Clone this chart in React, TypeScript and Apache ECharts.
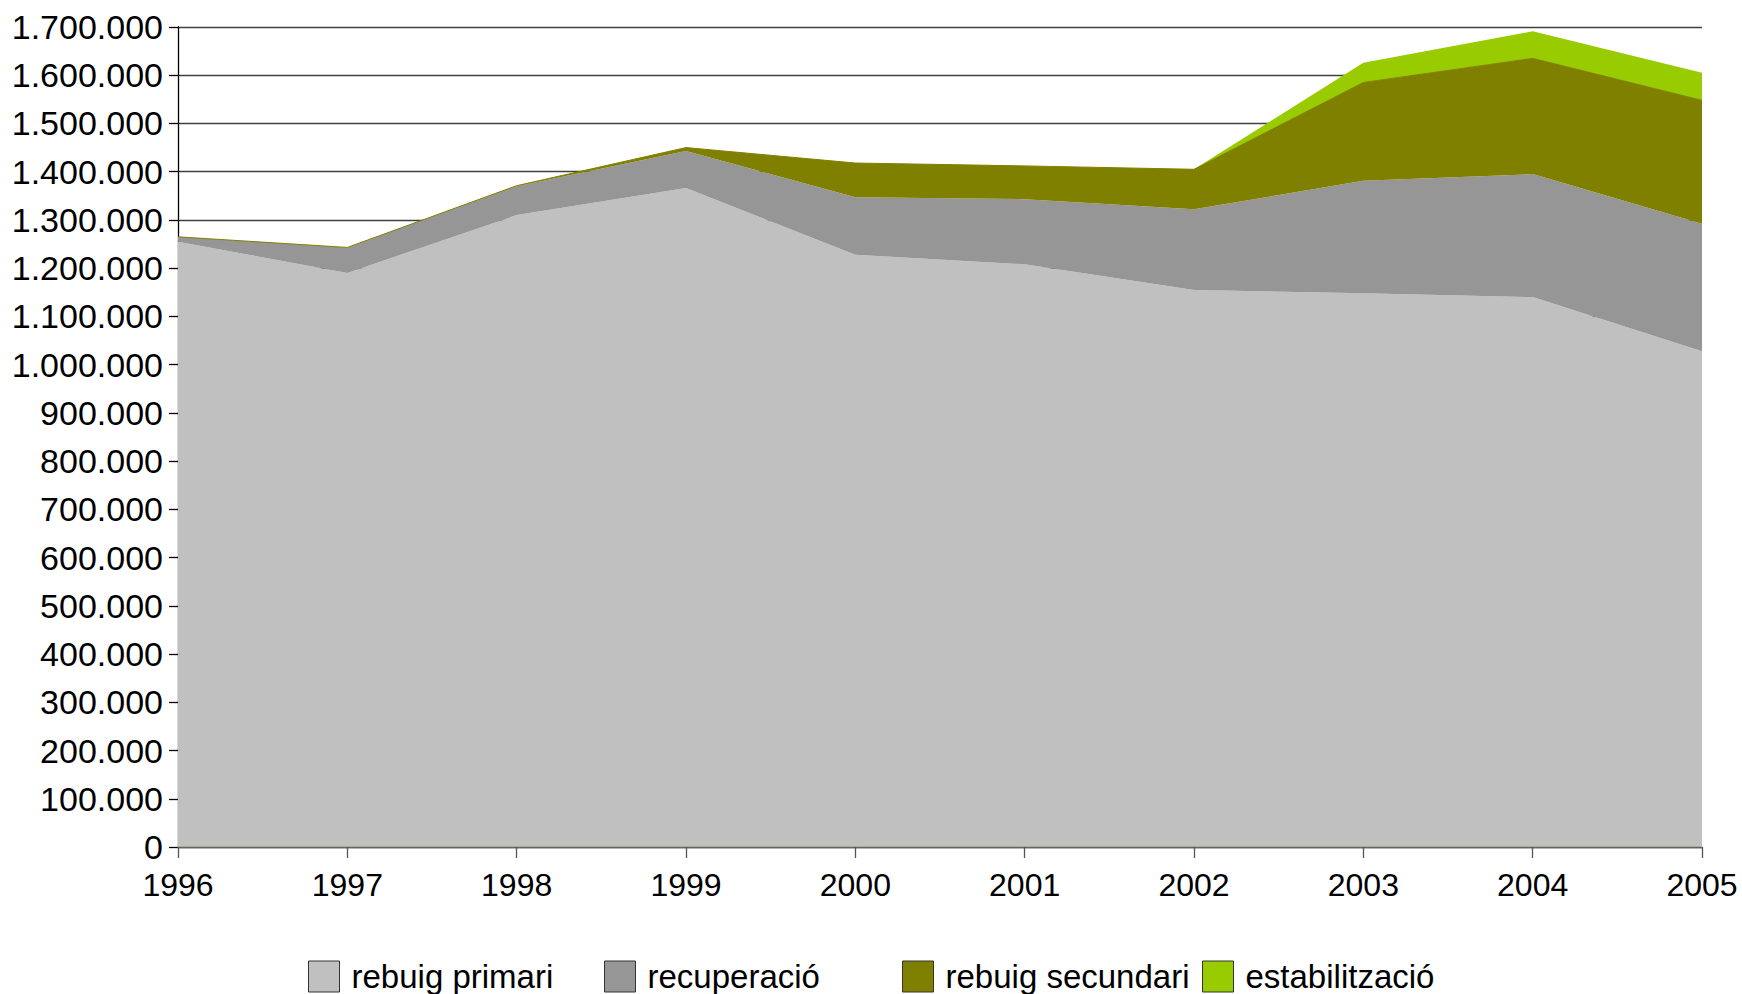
import React, { useEffect, useRef } from "react";
import * as echarts from "echarts";

const years = ["1996", "1997", "1998", "1999", "2000", "2001", "2002", "2003", "2004", "2005"];
const rebuigPrimari = [1255000, 1190000, 1310000, 1366000, 1228000, 1208000, 1155000, 1148000, 1140000, 1028000];
const recuperacio = [10000, 53000, 60000, 77000, 119000, 135000, 167000, 233000, 255000, 264000];
const rebuigSecundari = [0, 0, 1000, 7000, 71000, 69000, 83000, 204000, 240000, 256000];
const estabilitzacio = [0, 0, 0, 0, 0, 0, 0, 41000, 56000, 57000];

const seriesNames = ["rebuig primari", "recuperació", "rebuig secundari", "estabilització"];
const seriesColors = ["#C0C0C0", "#969696", "#808000", "#99CC00"];
const seriesData = [rebuigPrimari, recuperacio, rebuigSecundari, estabilitzacio];
const legendLefts = [308, 604, 902, 1202];

const FONT = "'Liberation Sans', Arial, sans-serif";

function fmt(v: number): string {
  return String(Math.round(v)).replace(/\B(?=(\d{3})+(?!\d))/g, ".");
}

export default function App() {
  const ref = useRef<HTMLDivElement>(null);
  useEffect(() => {
    if (!ref.current) return;
    const chart = echarts.init(ref.current, null, { renderer: "svg" });
    chart.setOption({
      animation: false,
      backgroundColor: "#ffffff",
      grid: { left: 178, right: 40, top: 27, bottom: 147, containLabel: false },
      xAxis: {
        type: "category",
        data: years,
        boundaryGap: false,
        axisLine: { show: true, lineStyle: { color: "#666655", width: 1.3 } },
        axisTick: { show: true, length: 11, lineStyle: { color: "#555", width: 1.3 } },
        axisLabel: { color: "#000", fontSize: 32, fontFamily: FONT, margin: 22 },
        splitLine: { show: false },
        z: 10,
      },
      yAxis: {
        type: "value",
        min: 0,
        max: 1700000,
        interval: 100000,
        axisLine: { show: true, lineStyle: { color: "#000", width: 1.3 } },
        axisTick: { show: true, length: 9, lineStyle: { color: "#000", width: 1.3 } },
        axisLabel: {
          color: "#000",
          fontSize: 34,
          fontFamily: FONT,
          margin: 15,
          formatter: (v: number) => fmt(v),
        },
        splitLine: { show: true, lineStyle: { color: "#404040", width: 1.3 } },
      },
      legend: seriesNames.map((n, i) => ({
        data: [n],
        left: legendLefts[i],
        top: 960,
        orient: "horizontal",
        itemWidth: 31,
        itemHeight: 31,
        icon: "rect",
        padding: 0,
        selectedMode: false,
        itemStyle: { borderColor: "#333", borderWidth: 1 },
        textStyle: { color: "#000", fontSize: 33, fontFamily: FONT, padding: [0, 0, 0, 7] },
      })),
      series: seriesNames.map((n, i) => ({
        name: n,
        type: "line",
        stack: "total",
        data: seriesData[i],
        showSymbol: false,
        symbol: "none",
        itemStyle: { color: seriesColors[i] },
        lineStyle: { color: seriesColors[i], width: i === 2 ? 1 : 0 },
        areaStyle: { color: seriesColors[i], opacity: 1 },
      })),
    });
    return () => chart.dispose();
  }, []);
  return (
    <div
      ref={ref}
      style={{ position: "absolute", left: 0, top: 0, width: 1742, height: 994 }}
    />
  );
}
